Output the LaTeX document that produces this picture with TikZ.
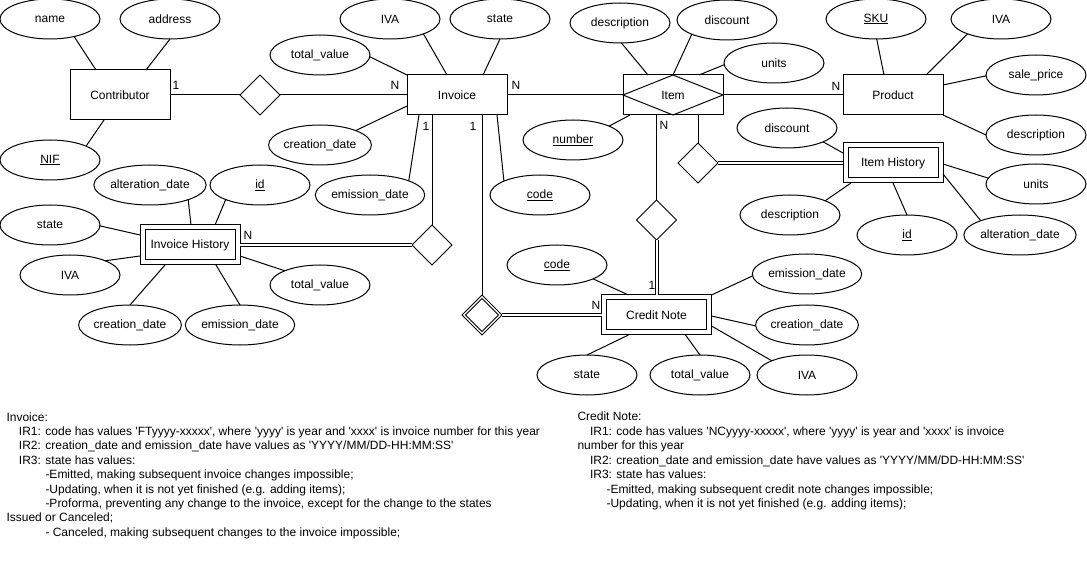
\documentclass[tikz,border=0pt]{standalone}
\usepackage{fontspec}
\setmainfont{Liberation Sans}
\usetikzlibrary{shapes.geometric,calc}
\newcommand\qq{\textquotesingle}
\begin{document}
\begin{tikzpicture}[x=1pt,y=-1pt,line width=1pt,
  every node/.style={font=\fontsize{12pt}{14.4pt}\selectfont},
  ent/.style={draw, rectangle, minimum width=100pt, minimum height=40pt, inner sep=0pt, outer sep=0pt, fill=white},
  attr/.style={draw, ellipse, minimum width=100pt, minimum height=40pt, inner sep=0pt, outer sep=0pt, fill=white},
  rel/.style={draw, diamond, minimum width=40pt, minimum height=40pt, inner sep=0pt, outer sep=0pt, fill=white},
  card/.style={inner sep=0pt},
  note/.style={anchor=base west, inner sep=0pt},
  dbl/.style={double, double distance=2pt}
  ]
\useasboundingbox[fill=white] (0,0) rectangle (1087,569);

% ---------- Contributor ----------
\node[ent, minimum height=50pt] (con) at (120,95) {Contributor};
\node[attr] (name) at (50,19) {name};
\node[attr] (addr) at (170,19) {address};
\node[attr] (nif) at (50,160) {\underline{NIF}};
\node[rel] (d1) at (260,95) {};

% ---------- Invoice ----------
\node[ent] (inv) at (457,95) {Invoice};
\node[attr] (iva1) at (390,19) {IVA};
\node[attr] (st1) at (500,19) {state};
\node[attr] (tv1) at (320,55) {total\_value};
\node[attr] (cd1) at (320,145) {creation\_date};
\node[attr] (ed1) at (370,195) {emission\_date};
\node[attr] (code1) at (540,195) {\underline{code}};

% ---------- Item ----------
\node[ent] (item) at (673,95) {Item};
\draw (item.west) -- (item.north) -- (item.east) -- (item.south) -- cycle;
\node[attr] (desc2) at (620,23) {description};
\node[attr] (disc2) at (727,20) {discount};
\node[attr] (units2) at (774,63) {units};
\node[attr] (num) at (573,140) {\underline{number}};

% ---------- Product ----------
\node[ent] (prod) at (893,95) {Product};
\node[attr] (sku) at (876,19) {\underline{SKU}};
\node[attr] (iva3) at (1001,19) {IVA};
\node[attr] (sp) at (1036,75) {sale\_price};
\node[attr] (desc3) at (1036,135) {description};

% ---------- Item History ----------
\node[ent] (ih) at (893,163) {Item History};
\draw ($(ih.north west)+(5,5)$) rectangle ($(ih.south east)+(-5,-5)$);
\node[attr] (disc4) at (787,128) {discount};
\node[attr] (desc4) at (790,215) {description};
\node[attr] (units4) at (1036,184) {units};
\node[attr] (id4) at (907,235) {\underline{id}};
\node[attr] (ad4) at (1020,235) {alteration\_date};
\node[rel] (d3) at (698,163) {};

% ---------- Invoice History ----------
\node[ent] (ihist) at (190,245) {Invoice History};
\draw ($(ihist.north west)+(5,5)$) rectangle ($(ihist.south east)+(-5,-5)$);
\node[attr] (ad5) at (150,185) {alteration\_date};
\node[attr] (id5) at (260,185) {\underline{id}};
\node[attr] (st5) at (50,225) {state};
\node[attr] (iva5) at (70,275) {IVA};
\node[attr] (cd5) at (130,325) {creation\_date};
\node[attr] (ed5) at (240,325) {emission\_date};
\node[attr] (tv5) at (320,285) {total\_value};
\node[rel] (d4) at (432,245) {};

% ---------- Credit Note ----------
\node[ent, minimum width=110pt] (cn) at (656.5,315) {Credit Note};
\draw ($(cn.north west)+(5,5)$) rectangle ($(cn.south east)+(-5,-5)$);
\node[attr] (code6) at (557,265) {\underline{code}};
\node[attr] (ed6) at (807,274) {emission\_date};
\node[attr] (cd6) at (807,325) {creation\_date};
\node[attr] (iva6) at (807,375) {IVA};
\node[attr] (st6) at (587,375) {state};
\node[attr] (tv6) at (700,375) {total\_value};
\node[rel] (d2) at (656.5,220) {};
\node[rel] (d5) at (482,315) {};
\node[rel, minimum width=33pt, minimum height=33pt] (d5i) at (482,315) {};

% ---------- attribute connectors ----------
\draw (name.-36) -- ($(con)+(-24,-25)$);
\draw (addr.-90) -- ($(con)+(26,-25)$);
\draw (nif.21) -- ($(con)+(-16,25)$);
\draw (iva1.-24) -- ($(inv)+(-10,-20)$);
\draw (st1.-90) -- ($(inv)+(26,-20)$);
\draw (tv1.-2) -- (inv.north west);
\draw (cd1.22) -- ($(inv)+(-50,11)$);
\draw (ed1.20) -- ($(inv)+(-38,20)$);
\draw (code1.159) -- ($(inv)+(40,20)$);
\draw (desc2.-86) -- ($(item)+(-25,-20)$);
\draw (disc2.-158) -- (item.north);
\draw (units2.182) -- ($(item)+(26,-20)$);
\draw (num.21) -- ($(item)+(-43,20)$);
\draw (sku.-88) -- ($(prod)+(-9,-20)$);
\draw (iva3.-156) -- ($(prod)+(33,-20)$);
\draw (sp.181) -- ($(prod)+(50,-10)$);
\draw (desc3.180) -- (prod.south east);
\draw (disc4.-21) -- ($(ih)+(-50,-10)$);
\draw (desc4.22) -- ($(ih)+(-42,20)$);
\draw (units4.173) -- ($(ih)+(50,1)$);
\draw (id4.90) -- ($(ih)+(0,20)$);
\draw (ad4.160) -- ($(ih)+(50,11)$);
\draw (ad5.-21) -- ($(ihist)+(1,-20)$);
\draw (id5.-157) -- ($(ihist)+(25,-20)$);
\draw (st5.-1) -- ($(ihist)+(-50,-10)$);
\draw (iva5.22) -- ($(ihist)+(-50,11)$);
\draw (cd5.90) -- ($(ihist)+(-25,20)$);
\draw (ed5.90) -- ($(ihist)+(26,20)$);
\draw (tv5.158) -- ($(ihist)+(50,11)$);
\draw (code6.-21) -- ($(cn)+(-28,-20)$);
\draw (ed6.182) -- (cn.north east);
\draw (cd6.181) -- ($(cn)+(55,1)$);
\draw (iva6.158) -- ($(cn)+(55,11)$);
\draw (st6.90) -- ($(cn)+(-28,20)$);
\draw (tv6.90) -- ($(cn)+(29,20)$);

% ---------- relationship connectors ----------
\draw (con.east) -- (d1.west);
\draw (d1.east) -- (inv.west);
\draw (inv.east) -- (item.west);
\draw (item.east) -- (prod.west);
\draw ($(item)+(-16.5,20)$) -- (d2.north);
\draw[dbl] (d2.south) -- (cn.north);
\draw ($(item)+(25,20)$) -- (d3.north);
\draw[dbl] (d3.east) -- (ih.west);
\draw ($(inv)+(-25,20)$) -- (d4.north);
\draw[dbl] (ihist.east) -- (d4.west);
\draw ($(inv)+(25,20)$) -- (d5.north);
\draw[dbl] (d5.east) -- (cn.west);

% ---------- cardinalities ----------
\node[card] (k1) at (176,85) {1};
\node[card] (k2) at (395,85) {N};
\node[card] (k3) at (516,85) {N};
\node[card] (k4) at (426,126) {1};
\node[card] (k5) at (473,126) {1};
\node[card] (k6) at (836,86) {N};
\node[card] (k7) at (664,125) {N};
\node[card] (k8) at (652,285) {1};
\node[card] (k9) at (596,305) {N};
\node[card] (k10) at (248,235) {N};

% ---------- notes ----------
\node[note] (n1) at (6,421) {Invoice:};
\node[note] (n2) at (18.5,435.4) {IR1: code has values \qq FTyyyy-xxxxx\qq, where \qq yyyy\qq\ is year and \qq xxxx\qq\ is invoice number for this year};
\node[note] (n3) at (18.5,449.8) {IR2: creation\_date and emission\_date have values as \qq YYYY/MM/DD-HH:MM:SS\qq};
\node[note] (n4) at (18.5,464.2) {IR3: state has values:};
\node[note] (n5) at (45,478.6) {-Emitted, making subsequent invoice changes impossible;};
\node[note] (n6) at (45,493) {-Updating, when it is not yet finished (e.g. adding items);};
\node[note] (n7) at (45,507.4) {-Proforma, preventing any change to the invoice, except for the change to the states};
\node[note] (n8) at (6,521.8) {Issued or Canceled;};
\node[note] (n9) at (45,536.2) {- Canceled, making subsequent changes to the invoice impossible;};

\node[note] (c1) at (577,420.5) {Credit Note:};
\node[note] (c2) at (589.5,435) {IR1: code has values \qq NCyyyy-xxxxx\qq, where \qq yyyy\qq\ is year and \qq xxxx\qq\ is invoice};
\node[note] (c3) at (577,449.5) {number for this year};
\node[note] (c4) at (589.5,464) {IR2: creation\_date and emission\_date have values as \qq YYYY/MM/DD-HH:MM:SS\qq};
\node[note] (c5) at (589.5,478.5) {IR3: state has values:};
\node[note] (c6) at (606,493) {-Emitted, making subsequent credit note changes impossible;};
\node[note] (c7) at (606,507.5) {-Updating, when it is not yet finished (e.g. adding items);};
\end{tikzpicture}
\end{document}
